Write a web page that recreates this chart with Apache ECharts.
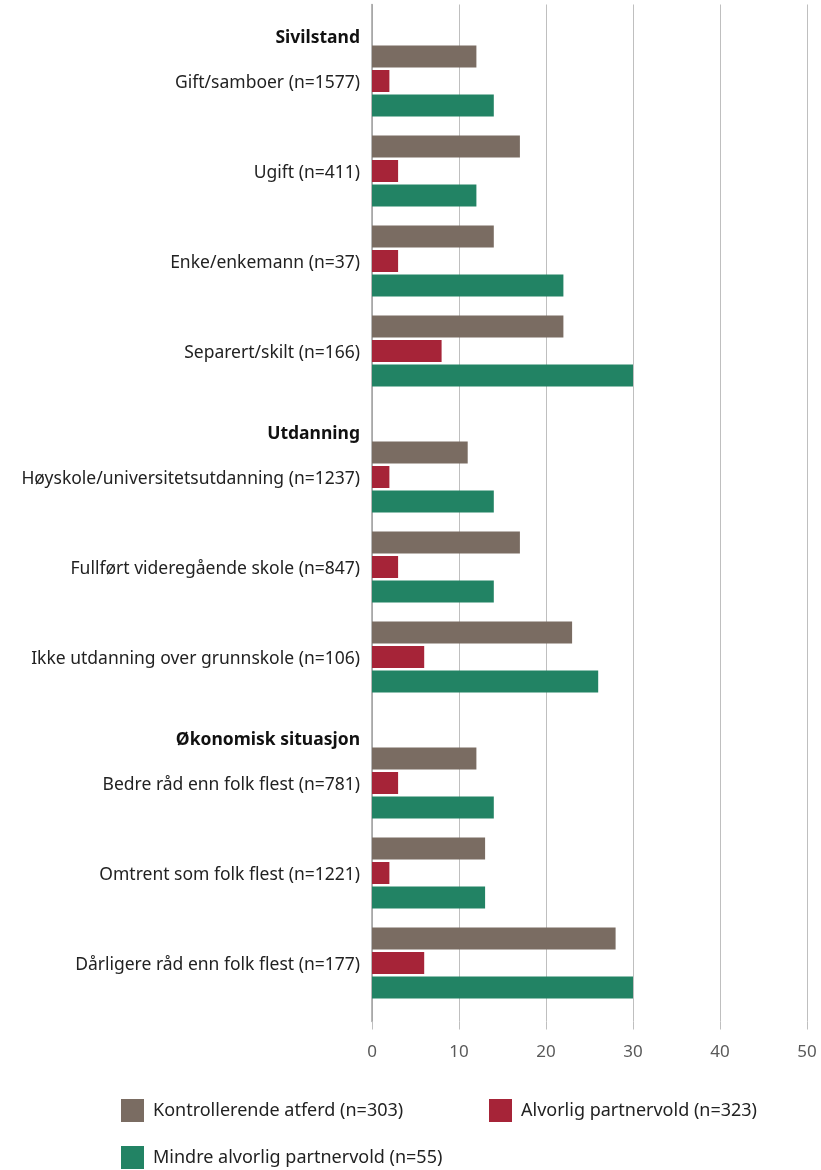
<!DOCTYPE html>
<html>
<head>
<meta charset="utf-8">
<script src="https://cdn.jsdelivr.net/npm/echarts@6/dist/echarts.min.js"></script>
<style>
  html, body { margin: 0; padding: 0; background: #ffffff; }
  #chart { width: 821px; height: 1170px; }
</style>
</head>
<body>
<div id="chart"></div>
<script>
// ---- data ----
const groupTitles = ['Sivilstand', 'Utdanning', 'Økonomisk situasjon'];
const groupSizes = [4, 3, 3];
const categories = [
  'Gift/samboer (n=1577)',
  'Ugift (n=411)',
  'Enke/enkemann (n=37)',
  'Separert/skilt (n=166)',
  'Høyskole/universitetsutdanning (n=1237)',
  'Fullført videregående skole (n=847)',
  'Ikke utdanning over grunnskole (n=106)',
  'Bedre råd enn folk flest (n=781)',
  'Omtrent som folk flest (n=1221)',
  'Dårligere råd enn folk flest (n=177)'
];
const seriesNames = ['Kontrollerende atferd (n=303)', 'Alvorlig partnervold (n=323)', 'Mindre alvorlig partnervold (n=55)'];
const kontrollerende = [12, 17, 14, 22, 11, 17, 23, 12, 13, 28];
const alvorlig       = [2, 3, 3, 8, 2, 3, 6, 3, 2, 6];
const mindre         = [14, 12, 22, 30, 14, 14, 26, 14, 13, 30];
const xMin = 0, xMax = 50, xInterval = 10;

// ---- layout of the category axis (fine slots) ----
const LEAD = 3, HEAD_TO_ROW = 5, ROW_STEP = 10, ROW_TO_HEAD = 9, TRAIL = 7;
const slotNames = [];
const slotRowIndex = [];
const headerSet = new Set(groupTitles);
function pushSlot(name, row) { slotNames.push(name); slotRowIndex.push(row); }
for (let i = 0; i < LEAD; i++) pushSlot('', -1);
let r = 0;
groupTitles.forEach((title, g) => {
  if (g > 0) { for (let i = 0; i < ROW_TO_HEAD - 1; i++) pushSlot('', -1); }
  pushSlot(title, -1);
  for (let k = 0; k < groupSizes[g]; k++) {
    const gap = k === 0 ? HEAD_TO_ROW : ROW_STEP;
    for (let i = 0; i < gap - 1; i++) pushSlot('', -1);
    pushSlot(categories[r], r);
    r++;
  }
});
for (let i = 0; i < TRAIL - 1; i++) pushSlot('', -1);

function spread(values) {
  return slotRowIndex.map(idx => idx >= 0 ? values[idx] : '-');
}

const colors = ['#7a6c62', '#a62438', '#228364'];
const FONT = 'Noto Sans';

const chart = echarts.init(document.getElementById('chart'), null, { renderer: 'canvas' });

function legendAt(name, left, top) {
  return {
    data: [name],
    left: left, top: top,
    orient: 'horizontal',
    itemWidth: 23, itemHeight: 23,
    icon: 'rect',
    selectedMode: false,
    padding: 0,
    textStyle: { fontFamily: FONT, fontSize: 18, color: '#222', padding: [0, 0, 0, 4] }
  };
}

chart.setOption({
  animation: false,
  backgroundColor: '#ffffff',
  color: colors,
  grid: {
    left: 372, right: 14, top: 4.5, bottom: 148.5,
    containLabel: false,
    outerBoundsMode: 'none'
  },
  legend: [
    legendAt(seriesNames[0], 121, 1099),
    legendAt(seriesNames[1], 489, 1099),
    legendAt(seriesNames[2], 121, 1146)
  ],
  xAxis: {
    type: 'value',
    min: xMin, max: xMax, interval: xInterval,
    position: 'bottom',
    axisLine: { show: false },
    axisTick: { show: true, length: 8, lineStyle: { color: '#bfbfbf', width: 1 } },
    splitLine: { show: true, lineStyle: { color: '#bfbfbf', width: 1 } },
    axisLabel: { fontFamily: FONT, fontSize: 17, color: '#595959', margin: 22 }
  },
  yAxis: {
    type: 'category',
    inverse: true,
    data: slotNames,
    axisLine: { show: true, lineStyle: { color: '#a0a0a0', width: 1.5 } },
    axisTick: { show: false },
    splitLine: { show: false },
    axisLabel: {
      interval: 0,
      margin: 12,
      fontFamily: FONT,
      fontSize: 17.5,
      color: '#222',
      padding: [5, 0, 0, 0],
      formatter: function (v) { return headerSet.has(v) ? '{h|' + v + '}' : v; },
      rich: { h: { fontFamily: FONT, fontSize: 17.5, fontWeight: 'bold', color: '#111' } }
    }
  },
  series: [
    { name: seriesNames[0], type: 'bar', barWidth: 22, barGap: '11%', data: spread(kontrollerende) },
    { name: seriesNames[1], type: 'bar', barWidth: 22, barGap: '11%', data: spread(alvorlig) },
    { name: seriesNames[2], type: 'bar', barWidth: 22, barGap: '11%', data: spread(mindre) }
  ]
});
</script>
</body>
</html>
